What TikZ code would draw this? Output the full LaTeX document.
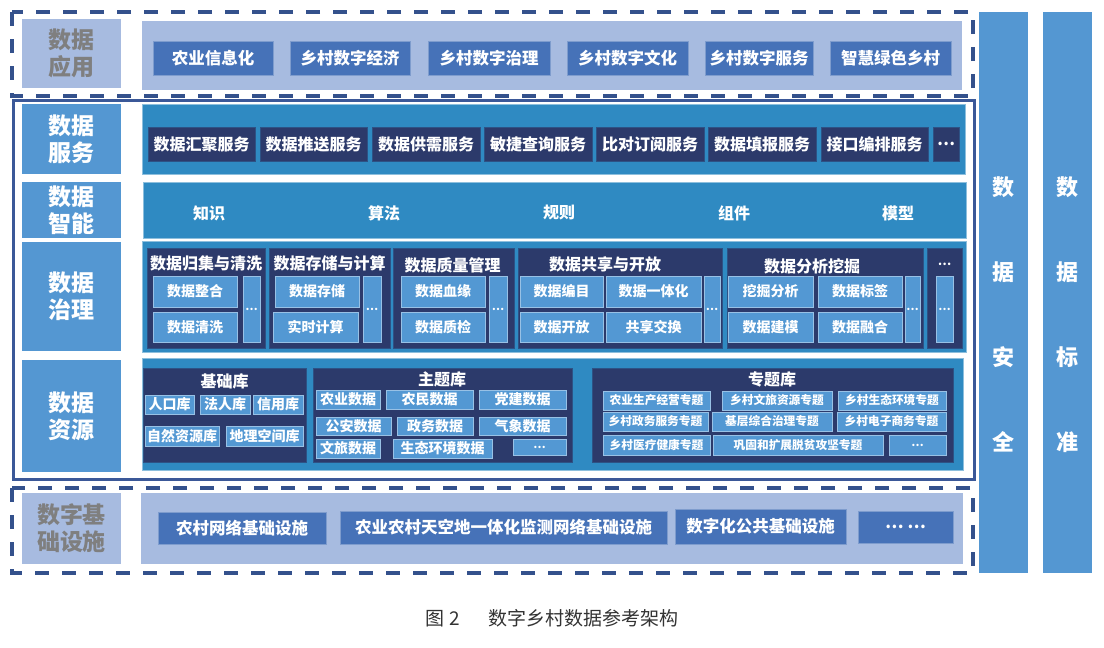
\documentclass[tikz,border=0pt]{standalone}
\usepackage{fontspec}
\newfontfamily\cjk{Noto Sans CJK SC}
\usepackage{tikz}
\usetikzlibrary{positioning}

\definecolor{dashblue}{HTML}{34518C}
\definecolor{framblue}{HTML}{3B5898}
\definecolor{paleblue}{HTML}{A7BBE0}
\definecolor{paletext}{HTML}{7F7F7F}
\definecolor{appblue}{HTML}{4672B8}
\definecolor{sideblue}{HTML}{5497D2}
\definecolor{panelblue}{HTML}{2F8AC2}
\definecolor{navyblue}{HTML}{2C3A6B}
\definecolor{subblue}{HTML}{5398D3}
\definecolor{captext}{HTML}{333333}

% box from (x1,y1) to (x2,y2), pixel units
\newcommand{\blockbox}[7]{\node[#2, minimum width={#5-#3}, minimum height={#6-#4}] (#1) at ({(#3+#5)/2},{(#4+#6)/2}) {#7};}

\begin{document}
\begin{tikzpicture}[x=1pt, y=-1pt,
	blk/.style={inner sep=0pt, outer sep=0pt, align=center, text=white},
	tagpale/.style={blk, fill=paleblue, text=paletext, font=\cjk\bfseries\fontsize{23}{27}\selectfont},
	tagside/.style={blk, fill=sideblue, font=\cjk\bfseries\fontsize{23}{27}\selectfont},
	palebar/.style={blk, fill=paleblue},
	appbox/.style={blk, fill=appblue, draw=appblue!70!white, line width=0.8pt, font=\cjk\bfseries\fontsize{16.5}{20}\selectfont},
	panel/.style={blk, fill=panelblue, draw=panelblue!55!white, line width=1pt},
	navybox/.style={blk, fill=navyblue, draw=navyblue!70!panelblue, line width=1pt, font=\cjk\bfseries\fontsize{16}{20}\selectfont},
	grouptitle/.style={blk, font=\cjk\bfseries\fontsize{16}{20}\selectfont},
	subbox/.style={blk, fill=subblue, draw=subblue!60!white, line width=0.6pt, font=\cjk\bfseries\fontsize{14}{17}\selectfont},
	topicbox/.style={subbox, font=\cjk\bfseries\fontsize{11.7}{14}\selectfont},
	dotbox/.style={subbox, font=\cjk\bfseries\fontsize{11}{14}\selectfont},
	smart/.style={blk, font=\cjk\bfseries\fontsize{16}{20}\selectfont},
	column/.style={blk, fill=sideblue},
	coltext/.style={blk, font=\cjk\bfseries\fontsize{22}{85}\selectfont},
	dashframe/.style={draw=dashblue, line width=4pt, dash pattern=on 14pt off 13pt},
	]
	\useasboundingbox (0,0) rectangle (1104,648);

	% --- Frames ---
	\draw[dashframe] (12,12) rectangle (973,96);
	\draw[draw=framblue, line width=3pt] (13,100) rectangle (974,479);
	\draw[dashframe] (12,488) rectangle (973,573);

	% --- Data application ---
	\blockbox{tagapp}{tagpale}{22}{19}{121}{88}{数据\\应用}
	\blockbox{apppanel}{palebar}{142}{21}{962}{90}{}
	\blockbox{app1}{appbox}{153}{41}{273}{75}{农业信息化}
	\blockbox{app2}{appbox}{290}{41}{410}{75}{乡村数字经济}
	\blockbox{app3}{appbox}{428}{41}{550}{75}{乡村数字治理}
	\blockbox{app4}{appbox}{567}{41}{688}{75}{乡村数字文化}
	\blockbox{app5}{appbox}{705}{41}{813}{75}{乡村数字服务}
	\blockbox{app6}{appbox}{830}{41}{951}{75}{智慧绿色乡村}

	% --- Data service ---
	\blockbox{tagsvc}{tagside}{22}{104}{121}{174}{数据\\服务}
	\blockbox{svcpanel}{panel}{142}{104}{965}{174}{}
	\blockbox{svc1}{navybox}{148}{127}{255}{161}{数据汇聚服务}
	\blockbox{svc2}{navybox}{260}{127}{367}{161}{数据推送服务}
	\blockbox{svc3}{navybox}{372}{127}{480}{161}{数据供需服务}
	\blockbox{svc4}{navybox}{484}{127}{592}{161}{敏捷查询服务}
	\blockbox{svc5}{navybox}{596}{127}{704}{161}{比对订阅服务}
	\blockbox{svc6}{navybox}{708}{127}{816}{161}{数据填报服务}
	\blockbox{svc7}{navybox}{821}{127}{928}{161}{接口编排服务}
	\blockbox{svc8}{navybox}{933}{127}{959}{161}{…}

	% --- Data intelligence ---
	\blockbox{tagsmart}{tagside}{22}{182}{121}{238}{数据\\智能}
	\blockbox{smartpanel}{panel}{143}{182}{966}{238}{}
	\node[smart] (smart1) at (209,213) {知识};
	\node[smart] (smart2) at (384,213) {算法};
	\node[smart] (smart3) at (559,213) {规则};
	\node[smart] (smart4) at (734,213) {组件};
	\node[smart] (smart5) at (898,213) {模型};

	% --- Data governance ---
	\blockbox{taggov}{tagside}{22}{242}{121}{351}{数据\\治理}
	\blockbox{govpanel}{panel}{142}{241}{966}{352}{}
	\blockbox{gov1}{navybox}{147}{248}{265}{348}{}
	\node[grouptitle] (gov1t) at (206,263) {数据归集与清洗};
	\blockbox{gov1a}{subbox}{153}{276}{237}{307}{数据整合}
	\blockbox{gov1b}{subbox}{153}{312}{237}{342}{数据清洗}
	\blockbox{gov1c}{dotbox}{243}{276}{260}{342}{…}
	\blockbox{gov2}{navybox}{269}{248}{390}{348}{}
	\node[grouptitle] (gov2t) at (329.5,263) {数据存储与计算};
	\blockbox{gov2a}{subbox}{275}{276}{359}{307}{数据存储}
	\blockbox{gov2b}{subbox}{273}{312}{358}{342}{实时计算}
	\blockbox{gov2c}{dotbox}{363}{276}{381}{342}{…}
	\blockbox{gov3}{navybox}{393}{248}{514}{348}{}
	\node[grouptitle] (gov3t) at (452.5,265) {数据质量管理};
	\blockbox{gov3a}{subbox}{401}{276}{485}{307}{数据血缘}
	\blockbox{gov3b}{subbox}{401}{312}{485}{342}{数据质检}
	\blockbox{gov3c}{dotbox}{489}{276}{507}{342}{…}
	\blockbox{gov4}{navybox}{518}{248}{722}{348}{}
	\node[grouptitle] (gov4t) at (605,264) {数据共享与开放};
	\blockbox{gov4a}{subbox}{520}{276}{603}{307}{数据编目}
	\blockbox{gov4b}{subbox}{606}{276}{701}{307}{数据一体化}
	\blockbox{gov4c}{subbox}{520}{312}{603}{342}{数据开放}
	\blockbox{gov4d}{subbox}{606}{312}{701}{342}{共享交换}
	\blockbox{gov4e}{dotbox}{704}{276}{720}{342}{…}
	\blockbox{gov5}{navybox}{727}{248}{923}{348}{}
	\node[grouptitle] (gov5t) at (812,266) {数据分析挖掘};
	\blockbox{gov5a}{subbox}{728}{276}{813}{307}{挖掘分析}
	\blockbox{gov5b}{subbox}{818}{276}{902}{307}{数据标签}
	\blockbox{gov5c}{subbox}{728}{312}{813}{342}{数据建模}
	\blockbox{gov5d}{subbox}{818}{312}{902}{342}{数据融合}
	\blockbox{gov5e}{dotbox}{905}{276}{920}{342}{…}
	\blockbox{gov6}{navybox}{927}{248}{962}{348}{}
	\node[grouptitle, font=\cjk\bfseries\fontsize{12}{14}\selectfont] (gov6t) at (944.5,264) {…};
	\blockbox{gov6a}{dotbox}{936}{276}{953}{342}{…}

	% --- Data resources ---
	\blockbox{tagres}{tagside}{22}{360}{121}{472}{数据\\资源}
	\blockbox{respanel}{panel}{142}{358}{963}{470}{}
	% base library
	\blockbox{base}{navybox}{143}{368}{306}{462}{}
	\node[grouptitle] (baset) at (224.5,381) {基础库};
	\blockbox{base1}{subbox}{145}{395}{194}{414}{人口库}
	\blockbox{base2}{subbox}{200}{395}{250}{414}{法人库}
	\blockbox{base3}{subbox}{253}{395}{303}{414}{信用库}
	\blockbox{base4}{subbox}{145}{426}{219}{446}{自然资源库}
	\blockbox{base5}{subbox}{226}{426}{303}{446}{地理空间库}
	% theme library
	\blockbox{theme}{navybox}{313}{368}{572}{462}{}
	\node[grouptitle] (themet) at (442,379) {主题库};
	\blockbox{theme1}{subbox}{316}{390}{380}{409}{农业数据}
	\blockbox{theme2}{subbox}{386}{390}{473}{409}{农民数据}
	\blockbox{theme3}{subbox}{479}{390}{566}{409}{党建数据}
	\blockbox{theme4}{subbox}{316}{417}{391}{435}{公安数据}
	\blockbox{theme5}{subbox}{397}{417}{473}{435}{政务数据}
	\blockbox{theme6}{subbox}{479}{417}{566}{435}{气象数据}
	\blockbox{theme7}{subbox}{316}{439}{380}{458}{文旅数据}
	\blockbox{theme8}{subbox}{393}{439}{492}{458}{生态环境数据}
	\blockbox{theme9}{dotbox}{513}{439}{566}{455}{…}
	% topic library
	\blockbox{topic}{navybox}{592}{368}{953}{462}{}
	\node[grouptitle] (topict) at (772,379) {专题库};
	\blockbox{topic1}{topicbox}{603}{391}{710}{410}{农业生产经营专题}
	\blockbox{topic2}{topicbox}{722}{391}{832}{410}{乡村文旅资源专题}
	\blockbox{topic3}{topicbox}{838}{391}{946}{410}{乡村生态环境专题}
	\blockbox{topic4}{topicbox}{603}{412}{708}{431}{乡村政务服务专题}
	\blockbox{topic5}{topicbox}{712}{412}{832}{431}{基层综合治理专题}
	\blockbox{topic6}{topicbox}{837}{412}{946}{431}{乡村电子商务专题}
	\blockbox{topic7}{topicbox}{603}{435}{710}{455}{乡村医疗健康专题}
	\blockbox{topic8}{topicbox}{713}{435}{883}{455}{巩固和扩展脱贫攻坚专题}
	\blockbox{topic9}{dotbox}{889}{435}{946}{455}{…}

	% --- Digital infrastructure ---
	\blockbox{taginfra}{tagpale}{22}{493}{121}{564}{数字基\\础设施}
	\blockbox{infrapanel}{palebar}{141}{493}{963}{564}{}
	\blockbox{infra1}{appbox}{158}{512}{326}{544}{农村网络基础设施}
	\blockbox{infra2}{appbox}{340}{511}{667}{544}{农业农村天空地一体化监测网络基础设施}
	\blockbox{infra3}{appbox}{675}{509}{846}{544}{数字化公共基础设施}
	\blockbox{infra4}{appbox}{858}{511}{953}{543}{… …}

	% --- Side columns ---
	\blockbox{sec}{column}{979}{12}{1028}{573}{}
	\node[coltext] (sect) at ([yshift=-22pt]sec.center) {数\\据\\安\\全};
	\blockbox{std}{column}{1043}{12}{1092}{573}{}
	\node[coltext] (stdt) at ([yshift=-22pt]std.center) {数\\据\\标\\准};

	% --- Caption ---
	\node[font=\cjk\fontsize{19}{23}\selectfont, text=captext] (cap) at (552,618) {图 2\hspace{1.5em}数字乡村数据参考架构};
\end{tikzpicture}
\end{document}
